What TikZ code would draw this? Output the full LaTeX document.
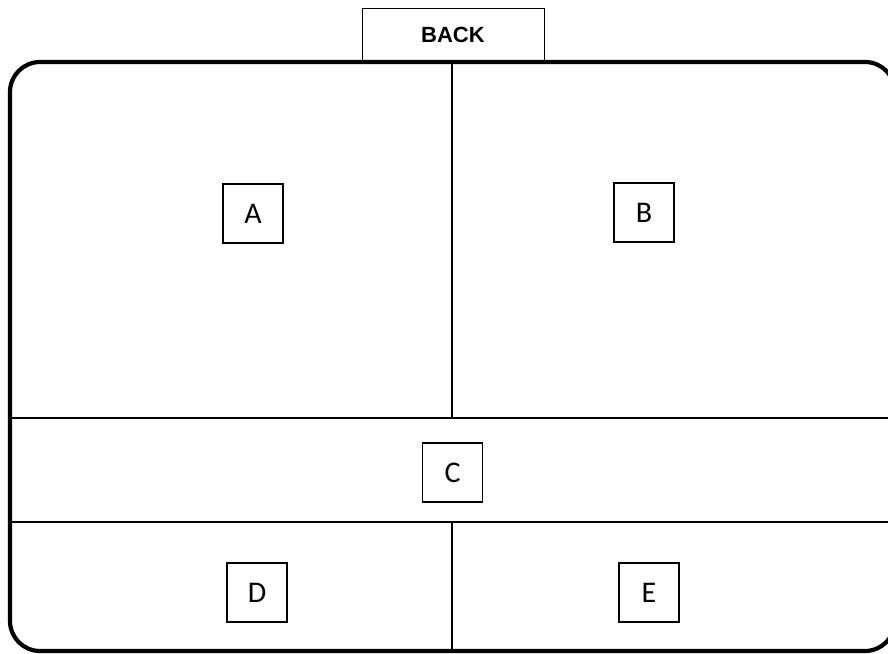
\documentclass[tikz,border=0pt]{standalone}
\usepackage{fontspec}
\setmainfont{Carlito}
\newfontfamily\backfont{Liberation Sans}
\usetikzlibrary{positioning}

\begin{document}
\begin{tikzpicture}[
  x=1pt, y=-1pt,
  every node/.style={font=\fontsize{30}{34}\selectfont},
  zone/.style={rectangle, draw, line width=1.8pt, minimum width=60pt,
    minimum height=59pt, inner sep=0pt},
  tab/.style={rectangle, draw, line width=1pt, minimum width=182pt,
    minimum height=54pt, inner sep=0pt,
    font=\backfont\bfseries\fontsize{22}{26}\selectfont},
  wall/.style={line width=1.5pt},
]
\useasboundingbox (0,0) rectangle (888,653);
% outer frame and partitions
\draw[line width=4.2pt, rounded corners=30pt] (10,62) rectangle (895,651);
\draw[wall] (452,62) -- (452,418);
\draw[wall] (10,418) -- (895,418);
\draw[wall] (10,522) -- (895,522);
\draw[wall] (452,522) -- (452,653);
% labels
\node[tab] (back) at (453,35) {BACK};
\node[zone] (a) at (253,213.5) {A};
\node[zone] (b) at (644,212.5) {B};
\node[zone] (c) at (452.5,472.5) {C};
\node[zone] (d) at (257,592.5) {D};
\node[zone] (e) at (649,592.5) {E};
\end{tikzpicture}
\end{document}
